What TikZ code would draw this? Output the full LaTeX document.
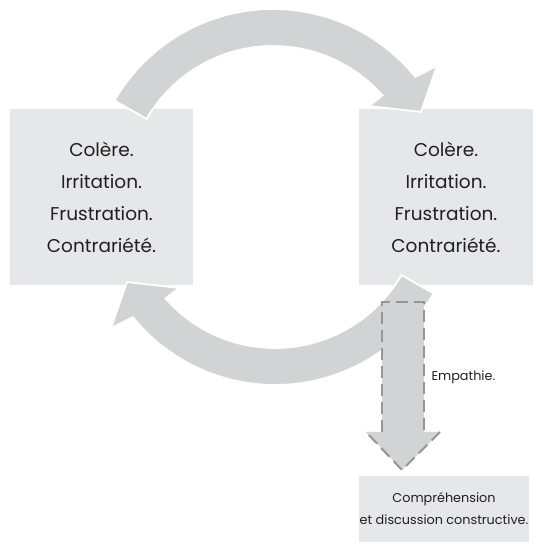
\documentclass[tikz,border=0pt]{standalone}
\usepackage{fontspec}
\setmainfont{Poppins}
\usetikzlibrary{positioning,calc}
\definecolor{boxgray}{HTML}{E6E7E8}
\definecolor{arrowgray}{HTML}{D1D3D4}
\definecolor{dashgray}{HTML}{939598}
\definecolor{textgray}{HTML}{231F20}

\begin{document}
\begin{tikzpicture}[x=1pt,y=1pt,
  box/.style={fill=boxgray,inner sep=0pt,align=center,text=textgray,
    font=\fontsize{18.5}{32}\selectfont},
  smalltext/.style={text=textgray,font=\fontsize{12.8}{22}\selectfont},
  bigarrow/.style={fill=arrowgray,draw=white,line width=1.8pt},
  dashline/.style={draw=dashgray,line width=2pt,dash pattern=on 12pt off 6pt}]
\useasboundingbox (0,0) rectangle (535,545);
\node[box,minimum width=183pt,minimum height=176pt] (gauche) at (101.5,348)
  {Colère.\\Irritation.\\Frustration.\\Contrariété.};
\node[box,minimum width=174pt,minimum height=176pt] (droite) at (446,348)
  {Colère.\\Irritation.\\Frustration.\\Contrariété.};
\node[box,smalltext,minimum width=170pt,minimum height=66pt] (issue) at (444,36)
  {Compréhension\\et discussion constructive.};
% the two round arrows
\coordinate (chaut) at (273,353);
\coordinate (cbas) at (275,343);
\filldraw[bigarrow] ($(chaut)+(150:183)$) arc[start angle=150,end angle=39,radius=183]
  -- (437,479) -- (421,433) -- (369,439)
  -- ($(chaut)+(41.4:146)$) arc[start angle=41.4,end angle=150,radius=146] -- cycle;
\filldraw[bigarrow] ($(cbas)+(330:183)$) arc[start angle=330,end angle=219,radius=183]
  -- (111,217) -- (127,263) -- (179,257)
  -- ($(cbas)+(221.4:146)$) arc[start angle=221.4,end angle=330,radius=146] -- cycle;
% way out
\fill[arrowgray] (382,243) -- (424,243) -- (424,113) -- (440,113) -- (402,75)
  -- (366,113) -- (382,113) -- cycle;
\draw[dashline] (382,113) -- (382,243) -- (424,243) -- (424,113);
\draw[dashline] (440,113) -- (402,75) -- (366,113);
\node[smalltext,anchor=west] (empathie) at (428,168) {Empathie.};
\end{tikzpicture}
\end{document}
